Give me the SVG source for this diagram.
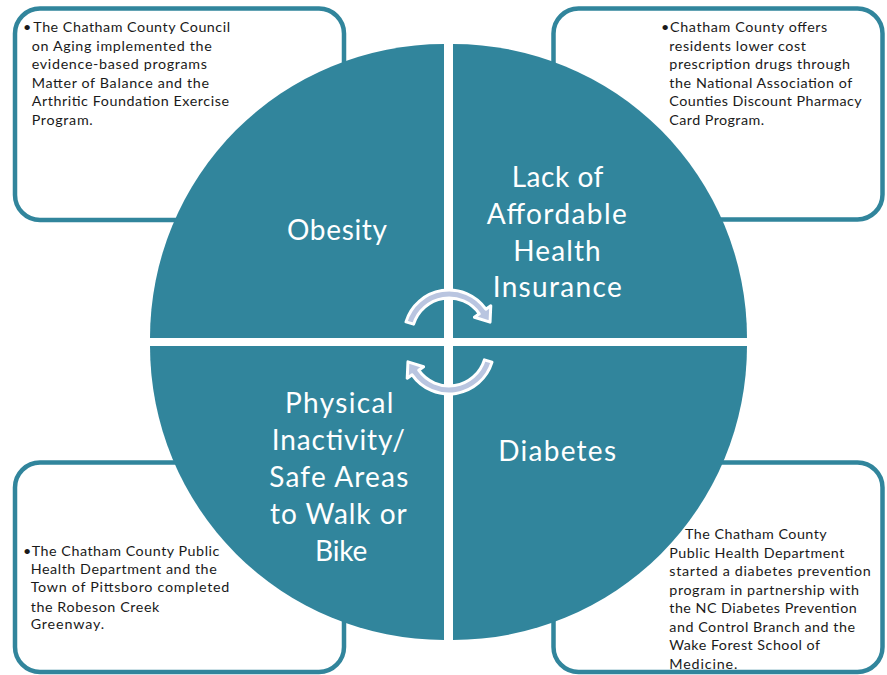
<svg xmlns="http://www.w3.org/2000/svg" width="887" height="675" viewBox="0 0 887 675">
  <style>
    .box { fill: #ffffff; stroke: #31859C; stroke-width: 4.5; }
    .quad { fill: #31859C; }
    .arrow { fill: #B9C5E0; stroke: #ffffff; stroke-width: 3; stroke-linejoin: round; }
    .small { font-family: Lato, "Liberation Sans", sans-serif; font-size: 14.3px; fill: #1a1a1a; }
    .big { font-family: Lato, "Liberation Sans", sans-serif; font-size: 28px; fill: #ffffff; }
  </style>
  <rect width="887" height="675" fill="#ffffff"/>

  <g id="box-tl">
    <rect class="box" x="15" y="8.5" width="329" height="211.5" rx="25"/>
    <text class="small" x="23" y="31.7">•</text>
    <text class="small" x="33.3" y="31.7" textLength="196.7">The Chatham County Council</text>
    <text class="small" x="31.7" y="50.5" textLength="180">on Aging implemented the</text>
    <text class="small" x="31.7" y="69.1" textLength="175.3">evidence-based programs</text>
    <text class="small" x="31.7" y="87.7" textLength="177.3">Matter of Balance and the</text>
    <text class="small" x="31.7" y="106.3" textLength="197.3">Arthritic Foundation Exercise</text>
    <text class="small" x="31.7" y="124.9" textLength="61">Program.</text>
  </g>

  <g id="box-tr">
    <rect class="box" x="553.5" y="8.5" width="329" height="211" rx="25"/>
    <text class="small" x="661" y="31.7">•</text>
    <text class="small" x="670" y="31.7" textLength="157.3">Chatham County offers</text>
    <text class="small" x="669.3" y="50.5" textLength="136.7">residents lower cost</text>
    <text class="small" x="669.3" y="69.1" textLength="180.7">prescription drugs through</text>
    <text class="small" x="669.3" y="87.7" textLength="183">the National  Association of</text>
    <text class="small" x="669.3" y="106.3" textLength="192.4">Counties Discount Pharmacy</text>
    <text class="small" x="669.3" y="124.9" textLength="94.7">Card Program.</text>
  </g>

  <g id="box-bl">
    <rect class="box" x="15" y="462.5" width="329" height="209.5" rx="25"/>
    <text class="small" x="23" y="555.5">•</text>
    <text class="small" x="31.7" y="555.5" textLength="187.6">The Chatham County Public</text>
    <text class="small" x="30.7" y="573.5" textLength="186">Health Department and the</text>
    <text class="small" x="30.7" y="592" textLength="198.6">Town of Pittsboro completed</text>
    <text class="small" x="30.7" y="611.5" textLength="128.6">the Robeson Creek</text>
    <text class="small" x="30.7" y="629" textLength="73.3">Greenway.</text>
  </g>

  <g id="box-br">
    <rect class="box" x="553.5" y="462.5" width="329" height="209.5" rx="25"/>
    <text class="small" x="685" y="539.3" textLength="141.7">The Chatham County</text>
    <text class="small" x="669.3" y="557.8" textLength="175">Public Health Department</text>
    <text class="small" x="669.3" y="576.3" textLength="201.4">started a diabetes prevention</text>
    <text class="small" x="669.3" y="594.8" textLength="189.7">program in partnership with</text>
    <text class="small" x="669.3" y="613.3" textLength="187.4">the NC Diabetes Prevention</text>
    <text class="small" x="669.3" y="631.8" textLength="185.7">and Control Branch and the</text>
    <text class="small" x="669.3" y="650.3" textLength="150.7">Wake Forest School of</text>
    <text class="small" x="669.3" y="668.8" textLength="68">Medicine.</text>
  </g>

  <g id="quad-obesity">
    <path class="quad" d="M444,338 L150,338 A294,294 0 0 1 444,44 Z"/>
    <text class="big" x="287" y="240" textLength="100">Obesity</text>
  </g>

  <g id="quad-insurance">
    <path class="quad" d="M453,338 L453,44 A294,294 0 0 1 747,338 Z"/>
    <text class="big" x="511.7" y="187" textLength="91.6">Lack of</text>
    <text class="big" x="486.7" y="223.8" textLength="140">Affordable</text>
    <text class="big" x="513.3" y="260.6" textLength="87.4">Health</text>
    <text class="big" x="492.7" y="297.4" textLength="129">Insurance</text>
  </g>

  <g id="quad-inactivity">
    <path class="quad" d="M444,346 L444,640 A294,294 0 0 1 150,346 Z"/>
    <text class="big" x="285" y="412.5" textLength="108.3">Physical</text>
    <text class="big" x="271.7" y="449.5" textLength="133.3">Inactivity/</text>
    <text class="big" x="269.3" y="486.5" textLength="139">Safe Areas</text>
    <text class="big" x="270" y="523.5" textLength="136.7">to Walk or</text>
    <text class="big" x="315" y="560.5" textLength="52.3">Bike</text>
  </g>

  <g id="quad-diabetes">
    <path class="quad" d="M453,346 L747,346 A294,294 0 0 1 453,640 Z"/>
    <text class="big" x="498.3" y="460.5" textLength="117.7">Diabetes</text>
  </g>

  <g id="connectors">
    <path id="arrow-top" class="arrow" d="M405.97,321.84 A45,45 0 0 1 485.86,309.19 L490.78,305.75 L490.05,322.13 L474.40,317.22 L479.31,313.78 A37,37 0 0 0 413.62,324.18 Z"/>
    <path id="arrow-bottom" class="arrow" transform="rotate(180 449 342)" d="M405.97,321.84 A45,45 0 0 1 485.86,309.19 L490.78,305.75 L490.05,322.13 L474.40,317.22 L479.31,313.78 A37,37 0 0 0 413.62,324.18 Z"/>
  </g>
</svg>
